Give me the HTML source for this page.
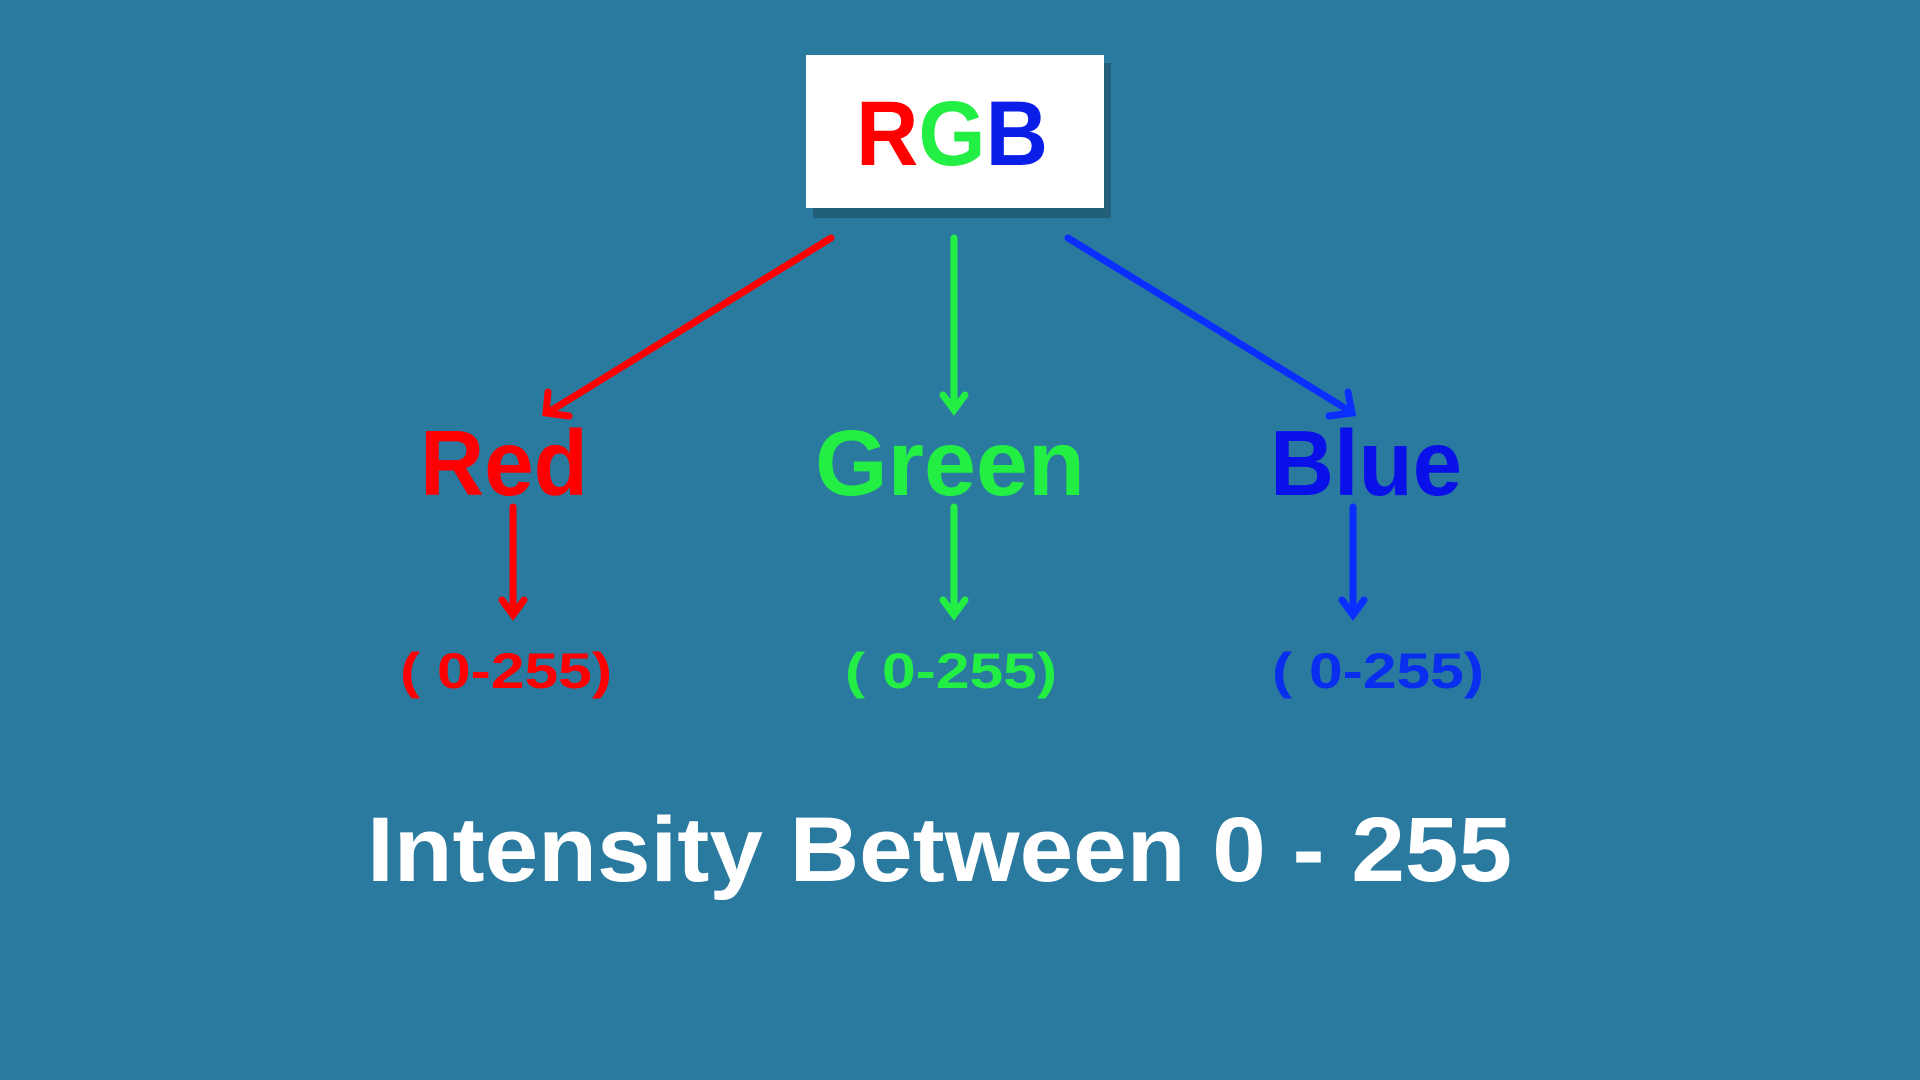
<!DOCTYPE html>
<html><head><style>html,body{margin:0;padding:0;background:#2a7aa0;}svg{display:block}</style></head>
<body>
<svg width="1920" height="1080" viewBox="0 0 1920 1080" xmlns="http://www.w3.org/2000/svg" font-family="Liberation Sans, sans-serif" font-weight="bold">
<rect width="1920" height="1080" fill="#2a7aa0"/>
<rect x="813" y="63" width="298" height="155" fill="#22607a"/>
<rect x="806" y="55" width="298" height="153" fill="#ffffff"/>
<text x="952" y="165" font-size="92" text-anchor="middle" textLength="192" lengthAdjust="spacingAndGlyphs"><tspan fill="#ff0000">R</tspan><tspan fill="#22ee44">G</tspan><tspan fill="#0a1ee8">B</tspan></text>
<g stroke-width="7" stroke-linecap="round" fill="none" stroke-linejoin="miter">
<line x1="831" y1="238" x2="552" y2="410" stroke="#ff0000"/>
<polyline points="548,392 546,413 569,416" stroke="#ff0000"/>
<line x1="954" y1="238" x2="954" y2="408" stroke="#22ee44"/>
<polyline points="943,395 954,410 965,395" stroke="#22ee44"/>
<line x1="1068" y1="238" x2="1348" y2="410" stroke="#0a2eff"/>
<polyline points="1329,416 1352,413 1348,392" stroke="#0a2eff"/>
<line x1="513" y1="507" x2="513" y2="614" stroke="#ff0000"/>
<polyline points="502,600 513,615 524,600" stroke="#ff0000"/>
<line x1="954" y1="507" x2="954" y2="614" stroke="#22ee44"/>
<polyline points="943,600 954,615 965,600" stroke="#22ee44"/>
<line x1="1353" y1="507" x2="1353" y2="614" stroke="#0a2eff"/>
<polyline points="1342,600 1353,615 1364,600" stroke="#0a2eff"/>
</g>
<text x="420" y="495" font-size="93" fill="#ff0000" textLength="168" lengthAdjust="spacingAndGlyphs">Red</text>
<text x="815" y="495" font-size="93" fill="#22ee44" textLength="270" lengthAdjust="spacingAndGlyphs">Green</text>
<text x="1270" y="495" font-size="93" fill="#0a10e8" textLength="192" lengthAdjust="spacingAndGlyphs">Blue</text>
<text x="400" y="688" font-size="50" fill="#ff0000" textLength="212" lengthAdjust="spacingAndGlyphs">( 0-255)</text>
<text x="845" y="688" font-size="50" fill="#22ee44" textLength="212" lengthAdjust="spacingAndGlyphs">( 0-255)</text>
<text x="1272" y="688" font-size="50" fill="#0a2eee" textLength="212" lengthAdjust="spacingAndGlyphs">( 0-255)</text>
<text x="367" y="881" font-size="92" fill="#ffffff" textLength="1145" lengthAdjust="spacingAndGlyphs">Intensity Between 0 - 255</text>
</svg>
</body></html>
